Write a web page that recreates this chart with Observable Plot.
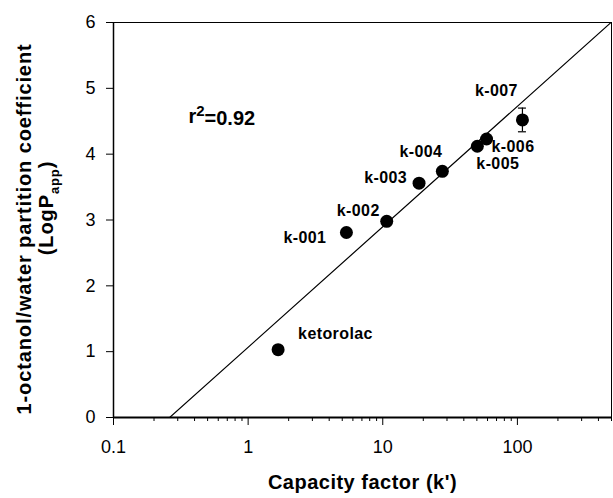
<!DOCTYPE html>
<html>
<head>
<meta charset="utf-8">
<script src="https://cdn.jsdelivr.net/npm/d3@7"></script>
<script src="https://cdn.jsdelivr.net/npm/@observablehq/plot@0.6"></script>
<style>
  html, body { margin: 0; padding: 0; background: #fff; }
  #chart svg { display: block; }
</style>
</head>
<body>
<div id="chart"></div>
<script>
// ---- data ----
const compounds      = ["ketorolac", "k-001", "k-002", "k-003", "k-004", "k-005", "k-006", "k-007"];
const capacityFactor = [1.67, 5.37, 10.7, 18.6, 27.7, 50.4, 59.0, 109];
const logPapp        = [1.03, 2.81, 2.98, 3.56, 3.74, 4.12, 4.23, 4.52];
const logPError      = [null, null, null, null, null, null, null, 0.18];

// regression line LogP = slope * log10(k') + intercept, r^2 = 0.92
const fitSlope = 1.83;
const fitIntercept = 1.067;
const rSquaredText = "r2=0.92";

const xDomain = [0.1, 500];
const yDomain = [0, 6];
const xMajorTicks = [0.1, 1, 10, 100];
const xTickLabels = ["0.1", "1", "10", "100"];
const yTicks = [0, 1, 2, 3, 4, 5, 6];
const yTickLabels = ["0", "1", "2", "3", "4", "5", "6"];
const xTitle = "Capacity factor (k')";
const yTitleLine1 = "1-octanol/water partition coefficient";
const yTitleLine2 = ["(LogP", "app", ")"];

// ---- layout (not data) ----
const labelLayout = {
  "ketorolac": {anchor: "start",  dx: 20,  dy: -16},
  "k-001":     {anchor: "end",    dx: -20, dy: 5},
  "k-002":     {anchor: "end",    dx: -7,  dy: -10},
  "k-003":     {anchor: "end",    dx: -12, dy: -5},
  "k-004":     {anchor: "end",    dx: 0,   dy: -19},
  "k-005":     {anchor: "start",  dx: -1,  dy: 18},
  "k-006":     {anchor: "start",  dx: 5,   dy: 8},
  "k-007":     {anchor: "middle", dx: -26, dy: -29}
};

const points = compounds.map((name, i) => ({
  name, k: capacityFactor[i], logP: logPapp[i], err: logPError[i]
}));
const errPoints = points.filter(d => d.err != null);
const fitLine = xDomain.map(k => ({k, logP: fitSlope * Math.log10(k) + fitIntercept}));

// minor ticks 2..9 of each decade
const xMinorTicks = [];
for (const dec of [0.1, 1, 10, 100]) for (let m = 2; m <= 9; m++) {
  const v = +(m * dec).toPrecision(3);
  if (v <= xDomain[1]) xMinorTicks.push(v);
}
const capFactor = Math.pow(10, 4 / 134.7); // error-bar cap half width ≈ 4px

const font = "'Liberation Sans', Arial, Helvetica, sans-serif";

const plot = Plot.plot({
  width: 613,
  height: 498,
  marginLeft: 113,
  marginRight: 2,
  marginTop: 22,
  marginBottom: 81,
  style: {fontFamily: font, fontSize: "18px", color: "#000", background: "#fff", overflow: "visible"},
  x: {type: "log", domain: xDomain, label: null},
  y: {domain: yDomain, label: null},
  marks: [
    Plot.frame({stroke: "#000", strokeWidth: 1}),
    Plot.ruleY([0], {stroke: "#000", strokeWidth: 2}),
    Plot.ruleX([xDomain[0]], {stroke: "#000", strokeWidth: 1.5}),
    Plot.axisX({ticks: xMinorTicks, tickSize: 4, tickFormat: () => "", stroke: "#000"}),
    Plot.axisX({ticks: xMajorTicks, tickSize: 8, tickPadding: 15,
      tickFormat: d => xTickLabels[xMajorTicks.indexOf(d)], fontSize: 18, stroke: "#000"}),
    Plot.axisY({ticks: yTicks, tickSize: 7, tickPadding: 11,
      tickFormat: d => yTickLabels[yTicks.indexOf(d)], fontSize: 18, stroke: "#000"}),
    Plot.line(fitLine, {x: "k", y: "logP", stroke: "#000", strokeWidth: 1.2, clip: true}),
    Plot.ruleX(errPoints, {x: "k", y1: d => d.logP - d.err, y2: d => d.logP + d.err, stroke: "#000", strokeWidth: 1.2}),
    Plot.ruleY(errPoints, {y: d => d.logP - d.err, x1: d => d.k / capFactor, x2: d => d.k * capFactor, stroke: "#000", strokeWidth: 1.2}),
    Plot.ruleY(errPoints, {y: d => d.logP + d.err, x1: d => d.k / capFactor, x2: d => d.k * capFactor, stroke: "#000", strokeWidth: 1.2}),
    Plot.dot(points, {x: "k", y: "logP", r: 6.5, fill: "#000", stroke: null}),
    ...points.map(d => Plot.text([d], {
      x: "k", y: "logP", text: "name",
      textAnchor: labelLayout[d.name].anchor,
      dx: labelLayout[d.name].dx, dy: labelLayout[d.name].dy,
      fontSize: 16, fontWeight: "bold", fill: "#000"
    })),
    Plot.text([rSquaredText], {x: () => 0.36, y: () => 4.48, text: d => d, textAnchor: "start",
      lineAnchor: "bottom", fontSize: 20, fontWeight: "bold", fill: "#000"}),
    Plot.text([xTitle], {frameAnchor: "bottom", dy: 71, text: d => d,
      fontSize: 20, fontWeight: "bold", fill: "#000"})
  ]
});

const svg = d3.select(plot);

// slight letter spacing on point labels and x title (reference text is wide)
svg.selectAll("text").filter(function () { return compounds.includes(this.textContent); })
  .attr("letter-spacing", "0.4px");
svg.selectAll("text").filter(function () { return this.textContent === xTitle; })
  .attr("letter-spacing", "0.5px");

// superscript in r^2
svg.selectAll("text").filter(function () { return this.textContent === rSquaredText; })
  .each(function () {
    const t = d3.select(this);
    t.text(null);
    t.append("tspan").text("r");
    t.append("tspan").attr("dy", "-0.45em").attr("font-size", "15px").text("2");
    t.append("tspan").attr("dy", "0.45em").text("=0.92");
  });

// y-axis title (two lines, with subscript)
svg.append("text")
  .attr("transform", "translate(31,229) rotate(-90)")
  .attr("text-anchor", "middle")
  .attr("font-family", font).attr("font-size", 20).attr("font-weight", "bold")
  .attr("letter-spacing", "0.9px")
  .text(yTitleLine1);
const t2 = svg.append("text")
  .attr("transform", "translate(53,208) rotate(-90)")
  .attr("text-anchor", "middle")
  .attr("font-family", font).attr("font-size", 20).attr("font-weight", "bold")
  .attr("letter-spacing", "0.9px");
t2.append("tspan").text(yTitleLine2[0]);
t2.append("tspan").attr("dy", 6).attr("font-size", 13).text(yTitleLine2[1]);
t2.append("tspan").attr("dy", -6).text(yTitleLine2[2]);

document.getElementById("chart").appendChild(plot);
</script>
</body>
</html>
